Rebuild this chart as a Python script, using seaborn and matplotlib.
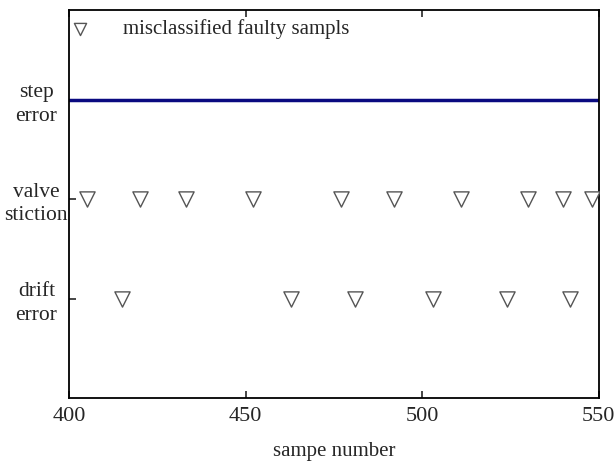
import matplotlib
matplotlib.use("Agg")
import matplotlib.pyplot as plt
import numpy as np
import pandas as pd
import seaborn as sns

# fault class levels on the y axis
classes = ["drift\nerror", "valve\nstiction", "step\nerror"]
levels = [1, 2, 3]

# misclassified samples
valve_x = [405, 420, 433, 452, 477, 492, 511, 530, 540, 548]
drift_x = [415, 463, 481, 503, 524, 542]

# step error: classified correctly over the whole window
step_x = [400, 550]
step_y = [3, 3]

sns.set_style("ticks")
plt.rcParams["font.family"] = ["Liberation Serif", "DejaVu Serif"]
plt.rcParams["font.size"] = 13

mis = pd.DataFrame({
    "sample": valve_x + drift_x,
    "cls": [2] * len(valve_x) + [1] * len(drift_x),
})
line = pd.DataFrame({"sample": step_x, "cls": step_y})

fig, ax = plt.subplots(figsize=(6.16, 4.66), dpi=100)
sns.lineplot(data=line, x="sample", y="cls", color="#0a0a80", lw=2.5, ax=ax)
sns.scatterplot(data=mis, x="sample", y="cls", marker="v", s=120,
                facecolor="white", edgecolor="#555555", linewidth=1.0,
                label="misclassified faulty sampls", ax=ax, zorder=3)

ax.set_xlim(400, 550)
ax.set_ylim(0, 3.9)
ax.set_xticks([400, 450, 500, 550])
ax.set_yticks(levels)
ax.set_yticklabels(classes, ha="center", fontsize=15.5, linespacing=1.3)
ax.tick_params(direction="in", length=5, width=1.2, top=True)
ax.tick_params(axis="x", labelsize=16, pad=6)
ax.tick_params(axis="y", pad=23.5)
for s in ax.spines.values():
    s.set_linewidth(1.3)
    s.set_color("black")
ax.set_xlabel("sampe number", fontsize=15, labelpad=12)
ax.set_ylabel("")
ax.legend(loc="upper left", bbox_to_anchor=(0, 0.984), frameon=False,
          fontsize=15, handlelength=0.8, handletextpad=1.67,
          markerscale=0.8, borderaxespad=0.0, borderpad=0.13)

plt.subplots_adjust(left=0.112, right=0.972, top=0.978, bottom=0.145)
plt.savefig("out.png", dpi=100)
plt.close()
